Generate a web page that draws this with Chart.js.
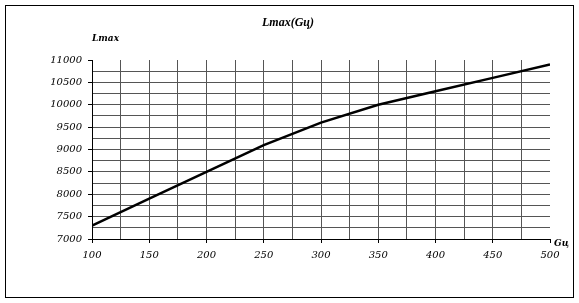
<!DOCTYPE html>
<html>
<head>
<meta charset="utf-8">
<script src="https://cdn.jsdelivr.net/npm/chart.js@4"></script>
<style>
  html, body { margin: 0; padding: 0; background: #fff; }
  #wrap { position: relative; width: 579px; height: 303px; }
</style>
</head>
<body>
<div id="wrap"><canvas id="chart" width="579" height="303"></canvas></div>
<script>
// --- Data ---
const gu = [100, 150, 200, 250, 300, 350, 400, 450, 500];
const lmax = [7300, 7900, 8500, 9100, 9600, 10000, 10300, 10600, 10900];
const chartTitle = 'Lmax(Gц)';
const yAxisName = 'Lmax';
const xAxisName = 'Gц';

const serif = '"DejaVu Serif", serif';
const times = '"Liberation Serif", serif';

// draws the frame and the loose texts like in the old spreadsheet chart
const decorations = {
  id: 'decorations',
  afterDraw(chart) {
    const ctx = chart.ctx;
    const area = chart.chartArea;
    ctx.save();
    ctx.strokeStyle = '#000';
    ctx.lineWidth = 1;
    ctx.strokeRect(5.5, 5.5, 568, 292);

    ctx.fillStyle = '#000';
    ctx.font = 'italic bold 12px ' + times;
    ctx.textAlign = 'center';
    ctx.textBaseline = 'middle';
    ctx.fillText(chartTitle, 288, 23);

    ctx.font = 'italic bold 9px ' + serif;
    ctx.textAlign = 'left';
    ctx.fillText(yAxisName, area.left, 39);
    ctx.fillText(xAxisName, area.right + 4, 244);
    ctx.restore();
  }
};

new Chart(document.getElementById('chart'), {
  type: 'line',
  data: {
    datasets: [{
      data: gu.map((g, i) => ({ x: g, y: lmax[i] })),
      borderColor: '#000',
      borderWidth: 2.5,
      pointRadius: 0,
      tension: 0,
      fill: false
    }]
  },
  options: {
    responsive: false,
    animation: false,
    layout: { padding: { left: 0, top: 60, right: 29, bottom: 0 } },
    plugins: {
      legend: { display: false },
      title: { display: false },
      tooltip: { enabled: false }
    },
    scales: {
      x: {
        type: 'linear',
        min: 100,
        max: 500,
        afterFit(scale) { scale.height = 64; },
        border: { display: true, color: '#000', width: 1 },
        grid: {
          color: c => (c.tick && (c.tick.value === 100 || c.tick.value === 500)) ? 'rgba(0,0,0,0)' : '#555',
          tickColor: c => (c.tick && c.tick.value % 50 === 0) ? '#000' : 'rgba(0,0,0,0)',
          tickLength: 4,
          lineWidth: 1
        },
        ticks: {
          stepSize: 25,
          autoSkip: false,
          maxRotation: 0,
          padding: 6,
          color: '#000',
          font: { family: serif, style: 'italic', size: 10 },
          callback: v => (v % 50 === 0 ? String(v) : '')
        }
      },
      y: {
        min: 7000,
        max: 11000,
        afterFit(scale) { scale.width = 92; },
        border: { display: true, color: '#000', width: 1 },
        grid: {
          color: c => (c.tick && (c.tick.value === 11000 || c.tick.value === 7000)) ? 'rgba(0,0,0,0)' : '#555',
          tickColor: c => (c.tick && c.tick.value % 500 === 0) ? '#000' : 'rgba(0,0,0,0)',
          tickLength: 4,
          lineWidth: 1
        },
        ticks: {
          stepSize: 250,
          autoSkip: false,
          padding: 6,
          color: '#000',
          font: { family: serif, style: 'italic', size: 10 },
          callback: v => (v % 500 === 0 ? String(v) : '')
        }
      }
    }
  },
  plugins: [decorations]
});
</script>
</body>
</html>
